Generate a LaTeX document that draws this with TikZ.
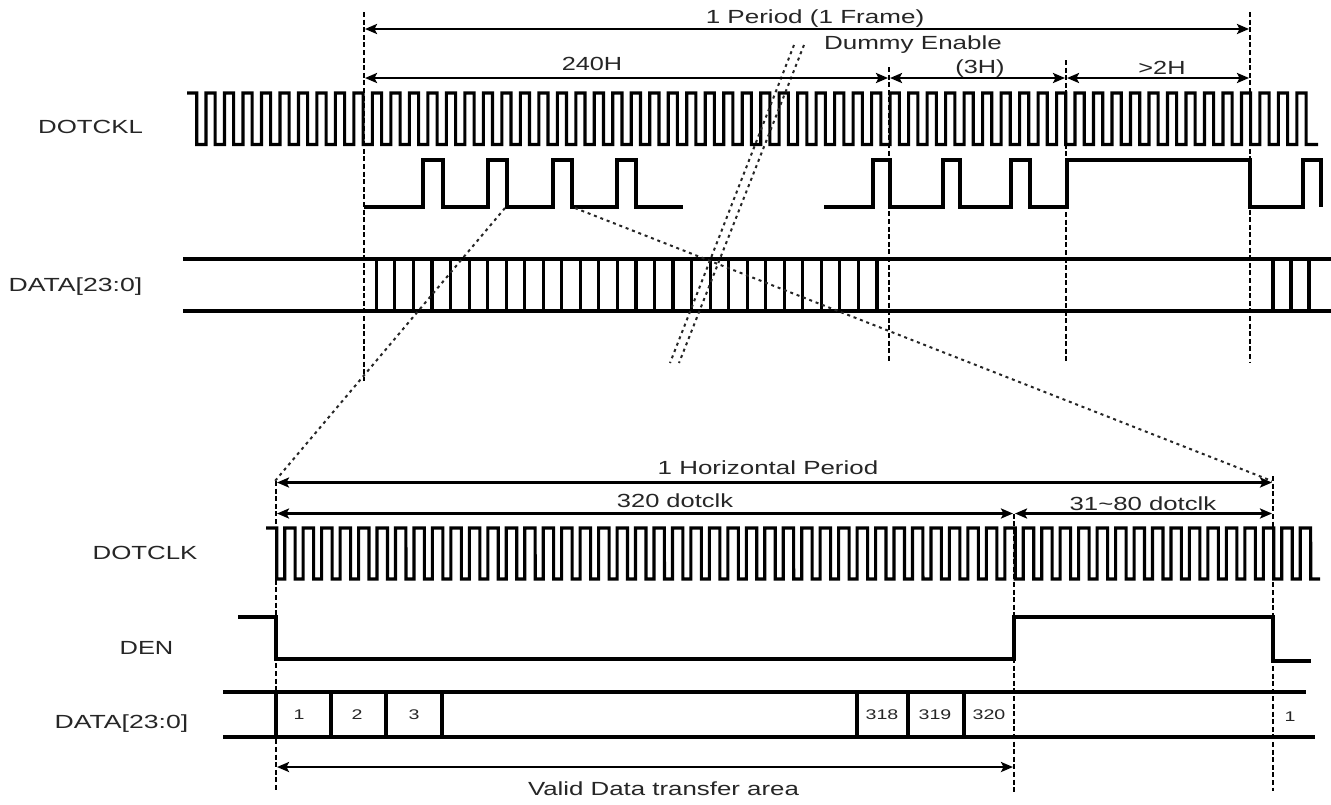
\documentclass[tikz,border=0pt]{standalone}
\usepackage{fontspec}
\usepackage{graphicx}
\setmainfont{Liberation Sans}
\usetikzlibrary{arrows.meta}
\definecolor{ink}{HTML}{262626}
\newcommand{\wide}[2]{\scalebox{#1}[1]{#2}}
\tikzset{
  wave/.style={line width=3.1pt,line join=miter,line cap=butt},
  rail/.style={line width=3.1pt},
  guide/.style={line width=2.7pt,dash pattern=on 5pt off 2.6pt},
  slant/.style={line width=2pt,dash pattern=on 3pt off 3.8pt,black!85},
  span/.style={line width=2.8pt,{Stealth[length=12pt,width=10pt,inset=2.5pt]}-{Stealth[length=12pt,width=10pt,inset=2.5pt]},shorten <=1pt,shorten >=1pt},
  spantxt/.style={font=\fontsize{19}{21}\selectfont,text=ink,inner sep=0pt},
  cell/.style={font=\fontsize{14}{16}\selectfont,text=ink,inner sep=0pt}
}
\begin{document}
\begin{tikzpicture}[x=1pt,y=-1pt]
\useasboundingbox (0,0) rectangle (1331,804);
\fill[white] (0,0) rectangle (1331,804);

% named guide points
\coordinate (gA1) at (364,12);   \coordinate (gA2) at (364,381);
\coordinate (gB1) at (889,67);   \coordinate (gB2) at (889,362);
\coordinate (gC1) at (1066,60);  \coordinate (gC2) at (1066,362);
\coordinate (gD1) at (1250,12);  \coordinate (gD2) at (1250,362);
\coordinate (pA) at (364,29);    \coordinate (pD) at (1250,29);
\coordinate (hA) at (364,78);    \coordinate (hB) at (889,78);
\coordinate (hC) at (1066,78);   \coordinate (hD) at (1250,78);
\coordinate (lA1) at (276,481);  \coordinate (lA2) at (276,792);
\coordinate (lB1) at (1014,513.5); \coordinate (lB2) at (1014,792);
\coordinate (lC1) at (1273,476); \coordinate (lC2) at (1273,791);
\coordinate (qA) at (276,482.5); \coordinate (qC) at (1273,482.5);
\coordinate (rA) at (276,513.5); \coordinate (rB) at (1014,513.5); \coordinate (rC) at (1273,513.5);
\coordinate (vA) at (276,767);   \coordinate (vB) at (1014,767);
\coordinate (zA1) at (505,208);  \coordinate (zA2) at (275,481);
\coordinate (zB1) at (575,208);  \coordinate (zB2) at (1272,481);
\coordinate (dA1) at (794,45);   \coordinate (dA2) at (670,363);
\coordinate (dB1) at (804,45);   \coordinate (dB2) at (679,363);

% upper clock
\draw[wave] (187,93) -- (196.7,93)
  foreach \k in {0,...,59} {
    -- ({196.7+18.49*\k},144.5) -- ({206+18.49*\k},144.5)
    -- ({206+18.49*\k},93) -- ({215.19+18.49*\k},93)
  } -- (1306.1,144.5) -- (1318,144.5);

% upper enable
\draw[wave] (364,207) -| (423,160) -| (443,207) -| (488,160) -| (507,207) -| (553,160) -| (572,207) -| (617,160) -| (636,207) -- (683,207);
\draw[wave] (824,207) -| (873,160) -| (890,207) -| (943,160) -| (960,207) -| (1011,160) -| (1030,207) -| (1067,160) -| (1250,207) -| (1303,160) -| (1321,207);

% upper data
\draw[rail] (183,259) -- (1331,259);
\draw[rail] (183,311) -- (1331,311);
\foreach \k in {0,...,27} \draw[rail] ({376.4+18.54*\k},259) -- ({376.4+18.54*\k},311);
\foreach \x in {1273,1291,1309} \draw[rail] (\x,259) -- (\x,311);

% lower clock
\draw[wave] (266,528) -- (276.7,528)
  foreach \k in {0,...,55} {
    -- ({276.7+18.464*\k},579) -- ({284.7+18.464*\k},579)
    -- ({284.7+18.464*\k},528) -- ({295.16+18.464*\k},528)
  } -- (1310.7,579) -- (1320,579);

% lower enable
\draw[wave] (238,617) -- (276,617) -- (276,659) -- (1014,659) -- (1014,617) -- (1273,617) -- (1273,661) -- (1311,661);

% lower data
\draw[rail] (223,692) -- (1306,692);
\draw[rail] (223,737) -- (1315,737);
\foreach \x in {276,331,386,442,857,908,964} \draw[rail] (\x,692) -- (\x,737);

% guides
\draw[guide] (gA1) -- (gA2);
\draw[guide] (gB1) -- (gB2);
\draw[guide] (gC1) -- (gC2);
\draw[guide] (gD1) -- (gD2);
\draw[guide] (lA1) -- (lA2);
\draw[guide] (lB1) -- (lB2);
\draw[guide] (lC1) -- (lC2);
\draw[slant] (zA1) -- (zA2);
\draw[slant] (zB1) -- (zB2);
\draw[slant] (dA1) -- (dA2);
\draw[slant] (dB1) -- (dB2);

% spans
\draw[span] (pA) -- (pD);
\draw[span] (hA) -- (hB);
\draw[span] (hB) -- (hC);
\draw[span] (hC) -- (hD);
\draw[span] (qA) -- (qC);
\draw[span] (rA) -- (rB);
\draw[span] (rB) -- (rC);
\draw[span] (vA) -- (vB);

% text
\node[spantxt] (tPeriod) at (815,19) {\wide{1.37}{1 Period (1 Frame)}};
\node[spantxt] (tDummy) at (913,45) {\wide{1.37}{Dummy Enable}};
\node[spantxt] (t240) at (592,64) {\wide{1.33}{240H}};
\node[spantxt] (t3h) at (980,69) {\wide{1.33}{(3H)}};
\node[spantxt] (t2h) at (1162,68) {\wide{1.33}{>2H}};
\node[spantxt] (tClkA) at (90.5,127) {\wide{1.36}{DOTCKL}};
\node[spantxt] (tDataA) at (75.5,287) {\wide{1.40}{DATA[23:0]}};
\node[spantxt] (tHoriz) at (768,468) {\wide{1.365}{1 Horizontal Period}};
\node[spantxt] (t320) at (675,501) {\wide{1.34}{320 dotclk}};
\node[spantxt] (t31) at (1143,504) {\wide{1.355}{31\textasciitilde 80 dotclk}};
\node[spantxt] (tClkB) at (145,553) {\wide{1.36}{DOTCLK}};
\node[spantxt] (tDen) at (146.5,648) {\wide{1.34}{DEN}};
\node[spantxt] (tDataB) at (121.5,724) {\wide{1.40}{DATA[23:0]}};
\node[spantxt] (tValid) at (663.5,789) {\wide{1.36}{Valid Data transfer area}};
\node[cell] (c1) at (299,715) {\wide{1.4}{1}};
\node[cell] (c2) at (357,715) {\wide{1.4}{2}};
\node[cell] (c3) at (414,715) {\wide{1.4}{3}};
\node[cell] (c318) at (882,715) {\wide{1.4}{318}};
\node[cell] (c319) at (935,715) {\wide{1.4}{319}};
\node[cell] (c320) at (989,715) {\wide{1.4}{320}};
\node[cell] (cN) at (1290,717) {\wide{1.4}{1}};
\end{tikzpicture}
\end{document}
